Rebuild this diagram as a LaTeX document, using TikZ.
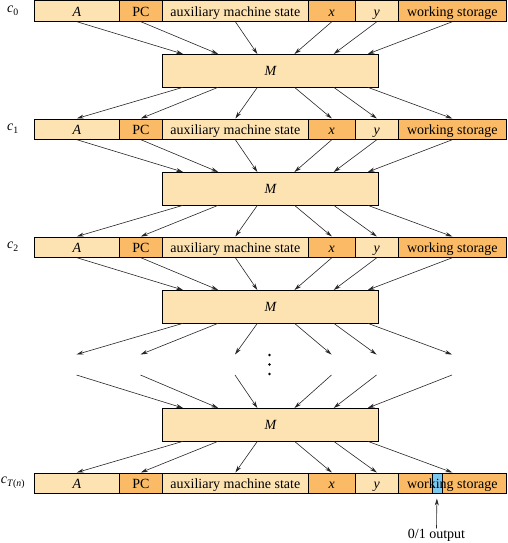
\documentclass[tikz,border=0pt]{standalone}
\usepackage{fontspec}
\setmainfont{Liberation Serif}
\usetikzlibrary{arrows.meta,calc}
\definecolor{lite}{RGB}{254,227,178}
\definecolor{dark}{RGB}{250,186,102}
\definecolor{blu}{RGB}{120,200,240}
\newcommand\cfgrow[2]{%
 \node[litec, minimum width=85pt] (A#1) at (34,#2) {\textit{A}};
 \node[darkc, minimum width=43pt] (P#1) at (119,#2) {PC};
 \node[litec, minimum width=146pt] (S#1) at (162,#2) {auxiliary machine state};
 \node[darkc, minimum width=47pt] (X#1) at (308,#2) {\textit{x}};
 \node[litec, minimum width=43pt] (Y#1) at (355,#2) {\textit{y}};
}
\begin{document}
\begin{tikzpicture}[x=1pt,y=-1pt,
  cell/.style={draw=black, line width=0.7pt, inner sep=0pt, minimum height=20.5pt,
    text height=11.5pt, text depth=1pt, anchor=north west, font=\fontsize{14}{16}\selectfont},
  litec/.style={cell, fill=lite},
  darkc/.style={cell, fill=dark},
  mbox/.style={draw=black, line width=0.8pt, fill=lite, minimum width=216pt, minimum height=32.5pt,
    inner sep=0pt, anchor=north west, font=\fontsize{14}{16}\selectfont\itshape},
  arr/.style={-{Stealth[length=7pt,width=4pt]}, draw=black!85, line width=0.6pt},
  lbl/.style={font=\fontsize{14}{16}\selectfont, inner sep=0pt}
]
\useasboundingbox (0,0) rectangle (507,543);
% rows
\cfgrow{0}{0.5}
\node[darkc, minimum width=108pt] (W0) at (398,0.5) {working storage};
\cfgrow{1}{118.5}
\node[darkc, minimum width=108pt] (W1) at (398,118.5) {working storage};
\cfgrow{2}{236.5}
\node[darkc, minimum width=108pt] (W2) at (398,236.5) {working storage};
\cfgrow{3}{472.5}
\fill[dark] (398,472.5) rectangle (506,493);
\node[draw=black, line width=0.5pt, fill=blu, inner sep=0pt, minimum width=10pt, minimum height=20.5pt, anchor=north west] (strip) at (431.7,472.5) {};
\node[cell, minimum width=108pt] (W3) at (398,472.5) {working storage};
% labels
\node[lbl] (L0) at (13,10.75) {\textit{c}\textsubscript{0}};
\node[lbl] (L1) at (13,128.75) {\textit{c}\textsubscript{1}};
\node[lbl] (L2) at (13,246.75) {\textit{c}\textsubscript{2}};
\node[lbl] (L3) at (13,482.75) {\textit{c}\textsubscript{\textit{T}(\textit{n})}};
% machines
\node[mbox] (M0) at (162,54) {M};
\node[mbox] (M1) at (162,172) {M};
\node[mbox] (M2) at (162,290) {M};
\node[mbox] (M3) at (162,408) {M};
% virtual row ends
\coordinate (tA) at (76.5,354.5);  \coordinate (bA) at (76.5,375);
\coordinate (tP) at (140.5,354.5); \coordinate (bP) at (140.5,375);
\coordinate (tS) at (235,354.5);   \coordinate (bS) at (235,375);
\coordinate (tX) at (331.5,354.5); \coordinate (bX) at (331.5,375);
\coordinate (tY) at (376.5,354.5); \coordinate (bY) at (376.5,375);
\coordinate (tW) at (452,354.5);   \coordinate (bW) at (452,375);
% arrows
\foreach \c/\f in {A/0.097, P/0.259, S/0.44, X/0.611, Y/0.792, W/0.949}{
  \draw[arr] (\c0.south) -- ($(M0.north west)!\f!(M0.north east)$);
  \draw[arr] ($(M0.south west)!\f!(M0.south east)$) -- (\c1.north);
  \draw[arr] (\c1.south) -- ($(M1.north west)!\f!(M1.north east)$);
  \draw[arr] ($(M1.south west)!\f!(M1.south east)$) -- (\c2.north);
  \draw[arr] (\c2.south) -- ($(M2.north west)!\f!(M2.north east)$);
  \draw[arr] ($(M2.south west)!\f!(M2.south east)$) -- (t\c);
  \draw[arr] (b\c) -- ($(M3.north west)!\f!(M3.north east)$);
  \draw[arr] ($(M3.south west)!\f!(M3.south east)$) -- (\c3.north);
}
% dots
\fill (269.5,355) circle (1.3);
\fill (269.5,364.5) circle (1.3);
\fill (269.5,374) circle (1.3);
% output
\node[lbl, anchor=base] (out) at (436.5,538) {0/1 output};
\draw[arr, shorten >=5pt] (out.north) -- (strip.south);
\end{tikzpicture}
\end{document}
